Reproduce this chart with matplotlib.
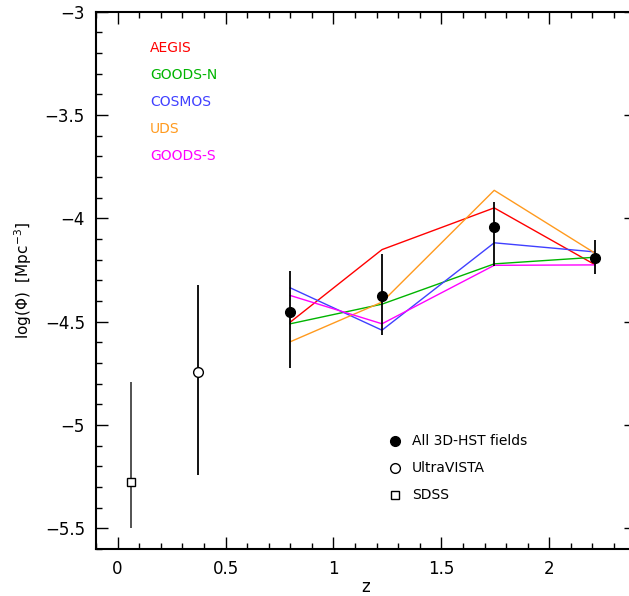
import matplotlib
matplotlib.use("Agg")
import matplotlib.pyplot as plt
from matplotlib.ticker import MultipleLocator

# ---- data ----
z_hst = [0.80, 1.225, 1.745, 2.21]
phi_hst = [-4.454, -4.376, -4.041, -4.194]
phi_hst_hi = [-4.256, -4.171, -3.922, -4.106]
phi_hst_lo = [-4.722, -4.566, -4.231, -4.267]

z_uvista = [0.373]
phi_uvista = [-4.742]
phi_uvista_hi = [-4.320]
phi_uvista_lo = [-5.243]

z_sdss = [0.062]
phi_sdss = [-5.275]
phi_sdss_hi = [-4.790]
phi_sdss_lo = [-5.499]

fields = ["AEGIS", "GOODS-N", "COSMOS", "UDS", "GOODS-S"]
field_colors = ["#ff0000", "#00b400", "#4040ff", "#ff9a1e", "#ff00ff"]
phi_fields = {
    "AEGIS":   [-4.502, -4.151, -3.949, -4.223],
    "GOODS-N": [-4.510, -4.415, -4.220, -4.188],
    "COSMOS":  [-4.336, -4.541, -4.118, -4.162],
    "UDS":     [-4.597, -4.405, -3.864, -4.167],
    "GOODS-S": [-4.373, -4.510, -4.227, -4.225],
}

xticks = [0, 0.5, 1, 1.5, 2]
yticks = [-5.5, -5, -4.5, -4, -3.5, -3]

# ---- figure ----
fig = plt.figure(figsize=(6.29, 5.96), dpi=100)
ax = fig.add_axes([96/629, 1-549/596, (635.6-96)/629, (549-11.8)/596])

for name, col in zip(fields, field_colors):
    ax.plot(z_hst, phi_fields[name], color=col, lw=1.0, zorder=2)

def errs(v, hi, lo):
    return [[a - b for a, b in zip(v, lo)], [b - a for a, b in zip(v, hi)]]

ax.errorbar(z_hst, phi_hst, yerr=errs(phi_hst, phi_hst_hi, phi_hst_lo),
            fmt='o', color='black', ms=7, ecolor='black', elinewidth=1.3,
            capsize=0, zorder=4)
ax.errorbar(z_uvista, phi_uvista, yerr=errs(phi_uvista, phi_uvista_hi, phi_uvista_lo),
            fmt='o', mfc='white', mec='black', mew=1.0, ms=7, ecolor='black',
            elinewidth=1.3, capsize=0, zorder=4)
ax.errorbar(z_sdss, phi_sdss, yerr=errs(phi_sdss, phi_sdss_hi, phi_sdss_lo),
            fmt='s', mfc='white', mec='black', mew=1.0, ms=5.5, ecolor='#444444',
            elinewidth=1.3, capsize=0, zorder=4)

ax.set_xlim(-0.1, 2.4)
ax.set_ylim(-5.6, -3)
ax.set_xticks(xticks)
ax.set_xticklabels(["0", "0.5", "1", "1.5", "2"])
ax.set_yticks(yticks)
ax.set_yticklabels(["\u22125.5", "\u22125", "\u22124.5", "\u22124", "\u22123.5", "\u22123"])
ax.xaxis.set_minor_locator(MultipleLocator(0.1))
ax.yaxis.set_minor_locator(MultipleLocator(0.1))
ax.tick_params(which='both', direction='in', top=True, right=True,
               labelsize=12, width=1.0, colors='black')
ax.tick_params(which='major', length=8.5, pad=8)
ax.tick_params(which='minor', length=4.3)
for s in ax.spines.values():
    s.set_linewidth(1.5)

ax.set_xlabel("z", fontsize=12, labelpad=0)
ax.set_ylabel("log(\u03a6)  [Mpc$^{-3}$]", fontsize=11, labelpad=8)

# field labels (colour key)
for i, (name, col) in enumerate(zip(fields, field_colors)):
    ax.text(0.1, 0.932 - i * 0.0503, name, color=col, fontsize=10,
            transform=ax.transAxes, va='center', ha='left')

# symbol key
key = [("All 3D-HST fields", 'o', 'black', 7),
       ("UltraVISTA", 'o', 'white', 7),
       ("SDSS", 's', 'white', 5.5)]
for i, (lab, m, fc, ms) in enumerate(key):
    yk = 0.2005 - i * 0.0503
    ax.plot([0.555], [yk], marker=m, mfc=fc, mec='black', mew=1.0, ms=ms,
            transform=ax.transAxes, clip_on=False)
    ax.text(0.585, yk, lab, fontsize=10, transform=ax.transAxes,
            va='center', ha='left')

fig.savefig("out.png", dpi=100)
